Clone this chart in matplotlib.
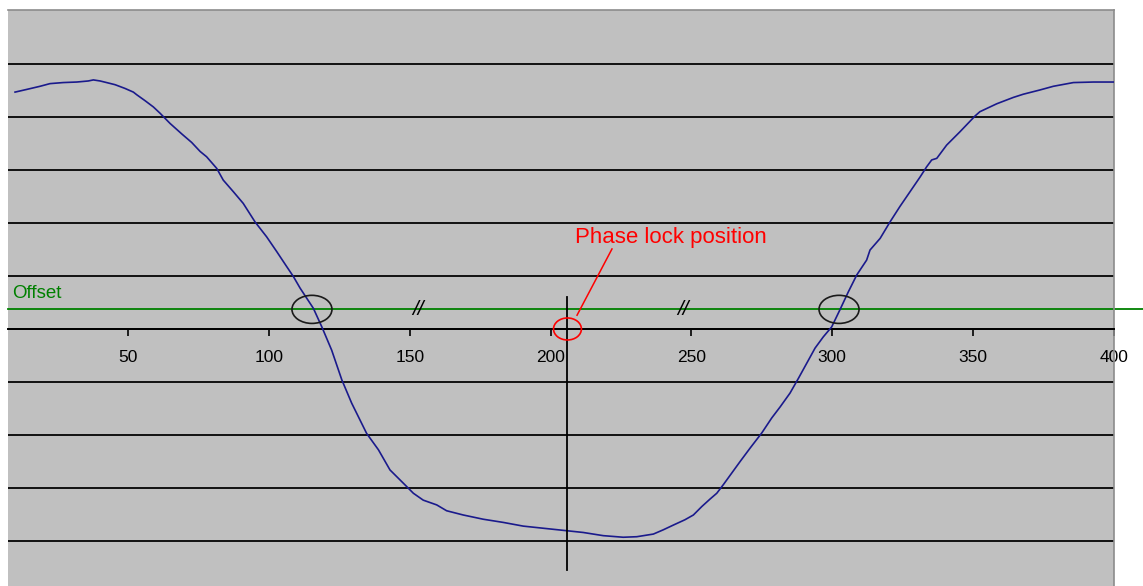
import matplotlib.pyplot as plt
from matplotlib.patches import Ellipse
import numpy as np

## ------------------------------- ##
## detector response vs. delay position
position = [9.9, 14.0, 18.8, 22.3, 27.0, 31.8, 35.9, 37.7, 40.1, 42.4, 45.4,
            48.9, 51.9, 53.1, 56.0, 59.0, 61.4, 64.9, 69.1, 72.6, 75.6, 77.9,
            81.5, 83.8, 87.4, 90.9, 95.1, 99.2, 102.8, 106.3, 108.7, 111.1,
            115.8, 118.8, 122.3, 125.9, 129.4, 134.7, 138.9, 143.0, 148.3,
            151.3, 154.8, 159.6, 163.1, 169.0, 176.1, 183.2, 190.3, 197.4,
            206.3, 211.6, 218.7, 225.8, 230.6, 236.5, 240.0, 243.6, 247.7,
            250.7, 253.7, 256.6, 259.0, 261.3, 264.3, 267.3, 270.8, 275.0,
            278.5, 281.5, 285.0, 288.0, 290.9, 293.9, 296.8, 299.8, 302.7,
            305.7, 308.7, 312.2, 313.4, 317.0, 320.5, 324.0, 327.6, 331.2,
            333.5, 335.3, 337.1, 340.6, 345.3, 350.7, 352.4, 358.4, 364.3,
            367.8, 373.7, 378.5, 385.6, 392.7, 399.8]
signal = [4.47, 4.52, 4.58, 4.63, 4.65, 4.66, 4.68, 4.70, 4.68, 4.65, 4.61,
          4.54, 4.47, 4.42, 4.31, 4.19, 4.07, 3.88, 3.68, 3.52, 3.35, 3.25,
          3.03, 2.81, 2.59, 2.37, 2.02, 1.74, 1.46, 1.18, 0.99, 0.77,
          0.39, 0.04, -0.40, -0.96, -1.40, -1.97, -2.28, -2.66, -2.94,
          -3.10, -3.23, -3.32, -3.43, -3.51, -3.59, -3.65, -3.72, -3.76,
          -3.81, -3.84, -3.90, -3.93, -3.92, -3.87, -3.79, -3.70, -3.60,
          -3.51, -3.35, -3.21, -3.10, -2.94, -2.72, -2.50, -2.25, -1.96,
          -1.68, -1.47, -1.21, -0.93, -0.65, -0.36, -0.15, 0.04, 0.36,
          0.70, 1.02, 1.30, 1.49, 1.71, 2.02, 2.31, 2.59, 2.87,
          3.06, 3.19, 3.22, 3.47, 3.72, 4.02, 4.10, 4.25, 4.37,
          4.43, 4.51, 4.58, 4.65, 4.66, 4.66]

offset = 0.37
lock_pos = 206
crossings = [115.3, 302.4]
breaks = [153, 247]
xticks = [50, 100, 150, 200, 250, 300, 350, 400]
## ------------------------------- ##

plt.rcParams['font.family'] = ['Liberation Sans', 'DejaVu Sans']

fig = plt.figure(figsize=(11.43, 5.86), dpi=100)
ax = fig.add_axes([0.007, 0.0, 0.9676, 0.983])
ax.set_facecolor('#c0c0c0')
ax.set_xlim(7.4, 400)
ax.set_ylim(-4.85, 6.02)

# horizontal grid
ax.set_yticks(range(-4, 6))
ax.yaxis.grid(True, color='#111111', lw=1.4)
ax.set_axisbelow(True)
ax.tick_params(axis='y', length=0, labelleft=False)

# x axis sits at zero
ax.spines['bottom'].set_position(('data', 0))
ax.spines['bottom'].set_color('black')
ax.spines['bottom'].set_linewidth(1.4)
ax.spines['left'].set_visible(False)
for s in ('top', 'right'):
    ax.spines[s].set_color('#8c8c8c')
    ax.spines[s].set_linewidth(1.2)
ax.set_xticks(xticks)
ax.tick_params(axis='x', direction='out', length=5, width=1.2, pad=10,
               labelsize=12.5, colors='black')

# signal curve
ax.plot(position, signal, color='#1a1a8c', lw=1.2, zorder=3)

# offset level
ax.plot([7.4, 411], [offset, offset], color='#008000', lw=1.3,
        clip_on=False, zorder=2)
ax.text(8.7, 0.585, 'Offset', color='#008000', fontsize=13.5, va='baseline')

# zero crossings with offset
for xc in crossings:
    ax.add_patch(Ellipse((xc, offset), 14.2, 0.53, fill=False,
                         ec='#1a1a1a', lw=1.2, zorder=4))
for xb in breaks:
    ax.text(xb, offset, '//', ha='center', va='center', fontsize=15,
            fontstyle='italic', color='black', zorder=4)

# phase lock marker
ax.plot([lock_pos, lock_pos], [0.60, -4.55], color='black', lw=1.3, zorder=4)
ax.add_patch(Ellipse((lock_pos, 0.0), 9.9, 0.415, fill=False,
                     ec='#ff0000', lw=1.2, zorder=5))
ax.plot([221.8, 209.4], [1.51, 0.26], color='#ff0000', lw=1.1, zorder=5)
ax.text(208.7, 1.62, 'Phase lock position', color='#ff0000', fontsize=16,
        va='baseline', ha='left')

plt.savefig('out.png', dpi=100)
